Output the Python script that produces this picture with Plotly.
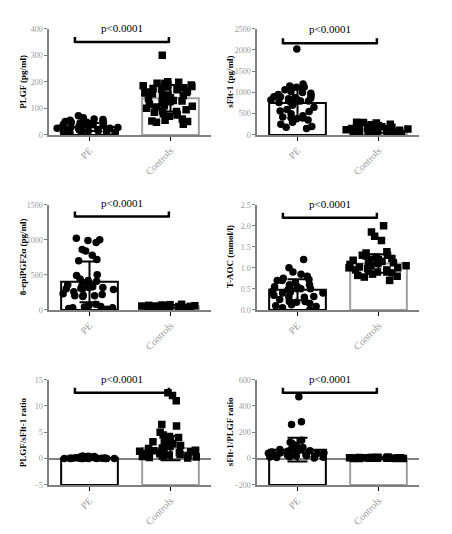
import plotly.graph_objects as go
from plotly.subplots import make_subplots

categories = ["PE", "Controls"]

# ---- values ----
plgf_pe = [72, 65, 60, 58, 55, 50, 50, 48, 48, 45, 45, 42, 40, 40, 38, 35, 35, 32, 30, 30,
           28, 28, 25, 25, 22, 20, 20, 18, 15, 15, 12, 10, 10, 8, 5, 5]
plgf_ctrl = [300, 200, 198, 195, 195, 192, 190, 188, 185, 182, 180, 178, 175, 172, 170, 165,
             162, 160, 158, 155, 150, 148, 145, 140, 138, 135, 130, 128, 125, 120, 115, 110,
             108, 105, 100, 95, 90, 88, 85, 80, 75, 70, 60, 55, 52, 50, 48, 40]
sflt_pe = [2020, 1200, 1150, 1130, 1120, 1100, 1060, 1020, 1000, 980, 950, 930, 900, 900, 880,
           860, 850, 830, 820, 810, 800, 800, 790, 780, 760, 700, 650, 600, 560, 550, 500, 450,
           420, 400, 400, 380, 350, 300, 250, 200, 180, 150]
sflt_ctrl = [300, 290, 280, 250, 240, 220, 200, 200, 190, 180, 170, 160, 150, 150, 140, 130,
             120, 110, 100, 100, 90, 80, 70, 60, 50, 40, 30, 20, 10, 0]
epi_pe = [1020, 1000, 990, 960, 860, 840, 780, 720, 700, 500, 490, 440, 420, 410, 390, 380,
          360, 340, 330, 320, 320, 310, 300, 300, 290, 260, 230, 220, 210, 200, 200, 190, 80,
          60, 50, 40, 30, 30, 20, 10]
epi_ctrl = [80, 75, 70, 65, 60, 60, 55, 55, 50, 50, 48, 45, 42, 40, 38, 35, 30, 25, 20, 10, 5]
taoc_pe = [1.2, 1.0, 0.9, 0.85, 0.8, 0.75, 0.72, 0.7, 0.7, 0.65, 0.6, 0.6, 0.55, 0.55, 0.52,
           0.5, 0.5, 0.5, 0.48, 0.45, 0.42, 0.4, 0.4, 0.35, 0.32, 0.3, 0.3, 0.25, 0.2, 0.2,
           0.18, 0.15, 0.12, 0.1, 0.08, 0.05, 0.0]
taoc_ctrl = [2.0, 1.85, 1.75, 1.65, 1.38, 1.35, 1.3, 1.3, 1.28, 1.25, 1.22, 1.2, 1.2, 1.18,
             1.15, 1.15, 1.12, 1.1, 1.1, 1.08, 1.05, 1.05, 1.02, 1.0, 1.0, 0.98, 0.95, 0.95,
             0.92, 0.9, 0.9, 0.88, 0.85, 0.82, 0.8, 0.78, 0.7]
ratio1_pe = [0.5, 0.45, 0.4, 0.35, 0.3, 0.3, 0.25, 0.2, 0.2, 0.18, 0.15, 0.15, 0.12, 0.1, 0.1,
             0.08, 0.08, 0.06, 0.05, 0.05, 0.04, 0.03, 0.03, 0.02, 0.02, 0.01, 0.01, 0.0, 0.0]
ratio1_ctrl = [12.5, 12.0, 11.0, 6.5, 6.2, 5.0, 4.5, 4.2, 4.0, 3.8, 3.5, 3.2, 3.0, 2.8, 2.5,
               2.3, 2.0, 1.9, 1.8, 1.6, 1.5, 1.4, 1.3, 1.2, 1.1, 1.0, 0.9, 0.8, 0.7, 0.6, 0.5,
               0.4, 0.3, 0.2, 0.1]
ratio2_pe = [470, 280, 260, 140, 125, 115, 100, 85, 80, 75, 70, 68, 65, 60, 58, 55, 50, 48, 45,
             42, 40, 38, 35, 30, 28, 25, 22, 20, 18, 15, 12, 10, 8, 5]
ratio2_ctrl = [12, 10, 9, 8, 8, 7, 6, 6, 5, 5, 5, 4, 4, 3, 3, 2, 2, 1, 1, 0.5, 0]

# bar heights (means) and SDs
means = {
    "plgf": [30, 138], "sflt": [750, 130], "epi": [400, 50],
    "taoc": [0.48, 1.1], "ratio1": [0.1, 2.0], "ratio2": [68, 5],
}
sds = {
    "plgf": [15, 50], "sflt": [350, 80], "epi": [290, 20],
    "taoc": [0.25, 0.22], "ratio1": [0.1, 2.3], "ratio2": [90, 5],
}
y_titles = ["PLGF (pg/ml)", "sFlt-1 (pg/ml)", "8-epiPGF2α (pg/ml)", "T-AOC (mmol/l)",
            "PLGF/sFlt-1 ratio", "sFlt-1/PLGF ratio"]
y_ranges = [[0, 400], [0, 2500], [0, 1500], [0, 2.5], [-5, 15], [-200, 600]]
y_dticks = [100, 500, 500, 0.5, 5, 200]
bracket_levels = [350, 2160, 1330, 2.19, 12.5, 500]
p_text = "p<0.0001"

panels = [
    ("plgf", plgf_pe, plgf_ctrl), ("sflt", sflt_pe, sflt_ctrl),
    ("epi", epi_pe, epi_ctrl), ("taoc", taoc_pe, taoc_ctrl),
    ("ratio1", ratio1_pe, ratio1_ctrl), ("ratio2", ratio2_pe, ratio2_ctrl),
]

W, H = 452, 534
x_doms = [[41 / W, 203 / W], [249 / W, 411 / W]]
y_doms = [[1 - 125 / H, 1 - 17 / H], [1 - 303 / H, 1 - 196 / H], [1 - 481 / H, 1 - 374 / H]]
title_x = [15 / W, 222 / W]

FONT = "Liberation Serif"
GRAY = "#808080"
TICKGRAY = "#999999"

fig = make_subplots(rows=3, cols=2)

for i, (key, pe, ctrl) in enumerate(panels):
    r, c = i // 2 + 1, i % 2 + 1
    ymin = y_ranges[i][0]
    m = means[key]
    # bars (start at the axis minimum like the original)
    fig.add_trace(go.Bar(
        x=categories, y=[v - ymin for v in m], base=[ymin, ymin], width=0.7,
        marker=dict(color="rgba(255,255,255,0)", line=dict(color=["black", "#a0a0a0"], width=2)),
        hoverinfo="skip", showlegend=False), row=r, col=c)
    # individual points
    for cat, vals, sym in [("PE", pe, "circle"), ("Controls", ctrl, "square")]:
        fig.add_trace(go.Box(
            x=[cat] * len(vals), y=vals, boxpoints="all", jitter=1, pointpos=0, width=0.82,
            fillcolor="rgba(0,0,0,0)", line=dict(color="rgba(0,0,0,0)", width=0),
            marker=dict(symbol=sym, size=7.5, color="black", line=dict(width=0)),
            hoverinfo="skip", showlegend=False), row=r, col=c)
    # error bars (mean ± SD)
    fig.add_trace(go.Scatter(
        x=categories, y=m, mode="markers",
        marker=dict(size=1, color="rgba(0,0,0,0)"),
        error_y=dict(type="data", array=sds[key], color="black", thickness=2, width=10),
        hoverinfo="skip", showlegend=False), row=r, col=c)

    xa = "xaxis" if i == 0 else f"xaxis{i + 1}"
    ya = "yaxis" if i == 0 else f"yaxis{i + 1}"
    xref = "x" if i == 0 else f"x{i + 1}"
    yref = "y" if i == 0 else f"y{i + 1}"
    fig.layout[xa].update(
        domain=x_doms[c - 1], type="category", categoryorder="array", categoryarray=categories,
        range=[-0.5, 1.5], showline=True, linecolor=GRAY, linewidth=2, ticks="outside",
        tickcolor="black", ticklen=4, tickwidth=1, tickangle=-45, showgrid=False,
        zeroline=False, tickfont=dict(family=FONT, size=10, color=TICKGRAY))
    is_neg = ymin < 0
    fig.layout[ya].update(
        domain=y_doms[r - 1], range=y_ranges[i], dtick=y_dticks[i], tick0=ymin,
        tickformat=".1f" if key == "taoc" else "d",
        showline=True, linecolor=GRAY, linewidth=1.5, ticks="outside", ticklen=3,
        tickcolor=GRAY, showgrid=False, zeroline=is_neg, zerolinecolor=GRAY,
        zerolinewidth=2, tickfont=dict(family=FONT, size=8, color=TICKGRAY))

    # y-axis title
    fig.add_annotation(
        text=f"<b>{y_titles[i]}</b>", textangle=-90, xref="paper", yref="paper",
        x=title_x[c - 1], y=sum(y_doms[r - 1]) / 2, xanchor="center", yanchor="middle",
        showarrow=False, font=dict(family=FONT, size=9, color="black"))

    # significance bracket
    b = bracket_levels[i]
    fig.add_shape(type="line", xref=xref, yref=yref, x0=-0.18, x1=0.98, y0=b, y1=b,
                  line=dict(color="black", width=2.5))
    for xe in (-0.18, 0.98):
        fig.add_shape(type="line", xref=xref, yref=yref, ysizemode="pixel", yanchor=b,
                      x0=xe, x1=xe, y0=-1, y1=5, line=dict(color="black", width=2.5))
    fig.add_annotation(text=p_text, xref=xref, yref=yref, x=0.4, y=b, yshift=14,
                       showarrow=False, font=dict(family=FONT, size=11, color="black"))

fig.update_layout(
    width=W, height=H, margin=dict(l=0, r=0, t=0, b=0),
    paper_bgcolor="white", plot_bgcolor="white", barmode="overlay", showlegend=False,
)

fig.write_html("out.html")
